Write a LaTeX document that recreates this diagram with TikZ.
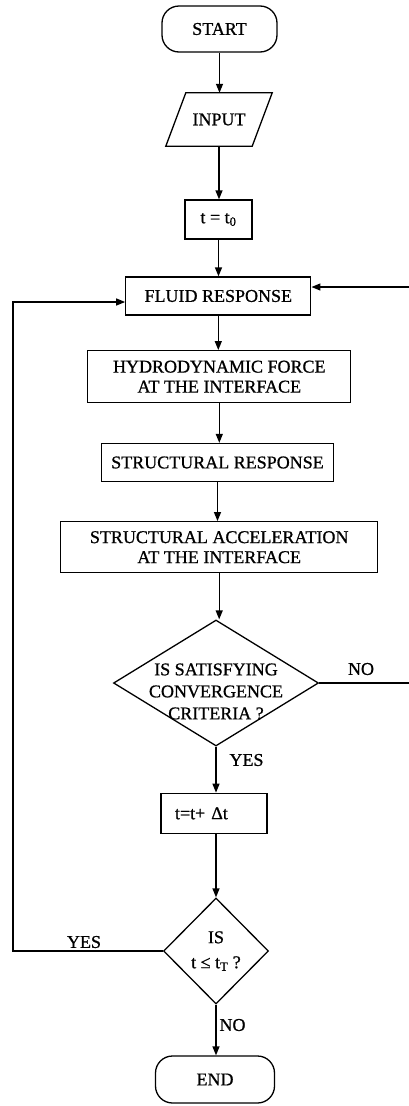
\documentclass[tikz,border=0pt]{standalone}
\usepackage{fontspec}
\setmainfont{Liberation Serif}[FakeBold=0.8]
\usetikzlibrary{shapes.geometric,arrows.meta}
\begin{document}
\begin{tikzpicture}[x=1pt,y=-1pt,
 every node/.style={font=\fontsize{18pt}{20pt}\selectfont, inner sep=0pt, align=center},
 box/.style={draw, line width=1.3pt, rectangle},
 term/.style={draw, line width=1.3pt, rectangle, rounded corners=17pt},
 dia/.style={draw, line width=1.3pt, diamond},
 arr/.style={line width=1.3pt, -{Triangle[length=9pt,width=7pt]}},
 ln/.style={line width=1.3pt}
]
\useasboundingbox (0,0) rectangle (409,1106);
\node[term, minimum width=115pt, minimum height=46pt] (start) at (219.5,29) {START};
\node[minimum width=86pt, minimum height=53pt] (input) at (219,119.5) {INPUT};
\draw[ln] ([xshift=10pt]input.north west) -- ([xshift=10pt]input.north east) -- ([xshift=-10pt]input.south east) -- ([xshift=-10pt]input.south west) -- cycle;
\node[box, minimum width=67pt, minimum height=39pt] (t0) at (218.5,219.5) {t = t\textsubscript{0}};
\node[box, minimum width=185pt, minimum height=38pt] (fluid) at (218.3,296) {FLUID RESPONSE};
\node[box, minimum width=263pt, minimum height=52pt] (hydro) at (219.3,376.7) {HYDRODYNAMIC FORCE\\AT THE INTERFACE};
\node[box, minimum width=232pt, minimum height=38pt] (sresp) at (217.5,462.5) {STRUCTURAL RESPONSE};
\node[box, minimum width=317pt, minimum height=51pt] (sacc) at (219.2,547.2) {STRUCTURAL ACCELERATION\\AT THE INTERFACE};
\node[dia, minimum width=205pt, minimum height=126pt] (conv) at (216,683) {};
\node[font=\fontsize{18pt}{22pt}\selectfont] (convtxt) at (216,691.5) {IS SATISFYING\\CONVERGENCE\\CRITERIA ?};
\node[box, minimum width=106pt, minimum height=40pt, text width=78pt, align=left] (tstep) at (214,813.3) {t=t+ Δt};
\node[dia, minimum width=105pt, minimum height=106pt, font=\fontsize{18pt}{25pt}\selectfont] (check) at (216,951) {IS\\t ≤ t\textsubscript{T} ?};
\node[term, minimum width=119pt, minimum height=47pt] (end) at (215,1079.5) {END};

\node (yes1) at (246.5,760) {YES};
\node (no1) at (361,669) {NO};
\node (yes2) at (84,942) {YES};
\node (no2) at (232.5,1025) {NO};

\draw[arr] (start.south) -- (start.south |- input.north);
\draw[arr] (input.south) -- (input.south |- t0.north);
\draw[arr] (t0.south) -- (t0.south |- fluid.north);
\draw[arr] (fluid.south) -- (fluid.south |- hydro.north);
\draw[arr] (hydro.south) -- (hydro.south |- sresp.north);
\draw[arr] (sresp.south) -- (sresp.south |- sacc.north);
\draw[arr] (sacc.south) -- (sacc.south |- conv.north);
\draw[arr] (conv.south) -- (conv.south |- tstep.north);
\draw[arr] (tstep.south -| check.north) -- (check.north);
\draw[arr] (check.south) -- (check.south |- end.north);

\coordinate (rc) at (416,683);
\draw[arr] (conv.east) -- (rc) |- ([yshift=9pt]fluid.east);
\coordinate (lc) at (13,951);
\draw[arr] (check.west) -- (lc) |- ([yshift=-6pt]fluid.west);
\end{tikzpicture}
\end{document}
